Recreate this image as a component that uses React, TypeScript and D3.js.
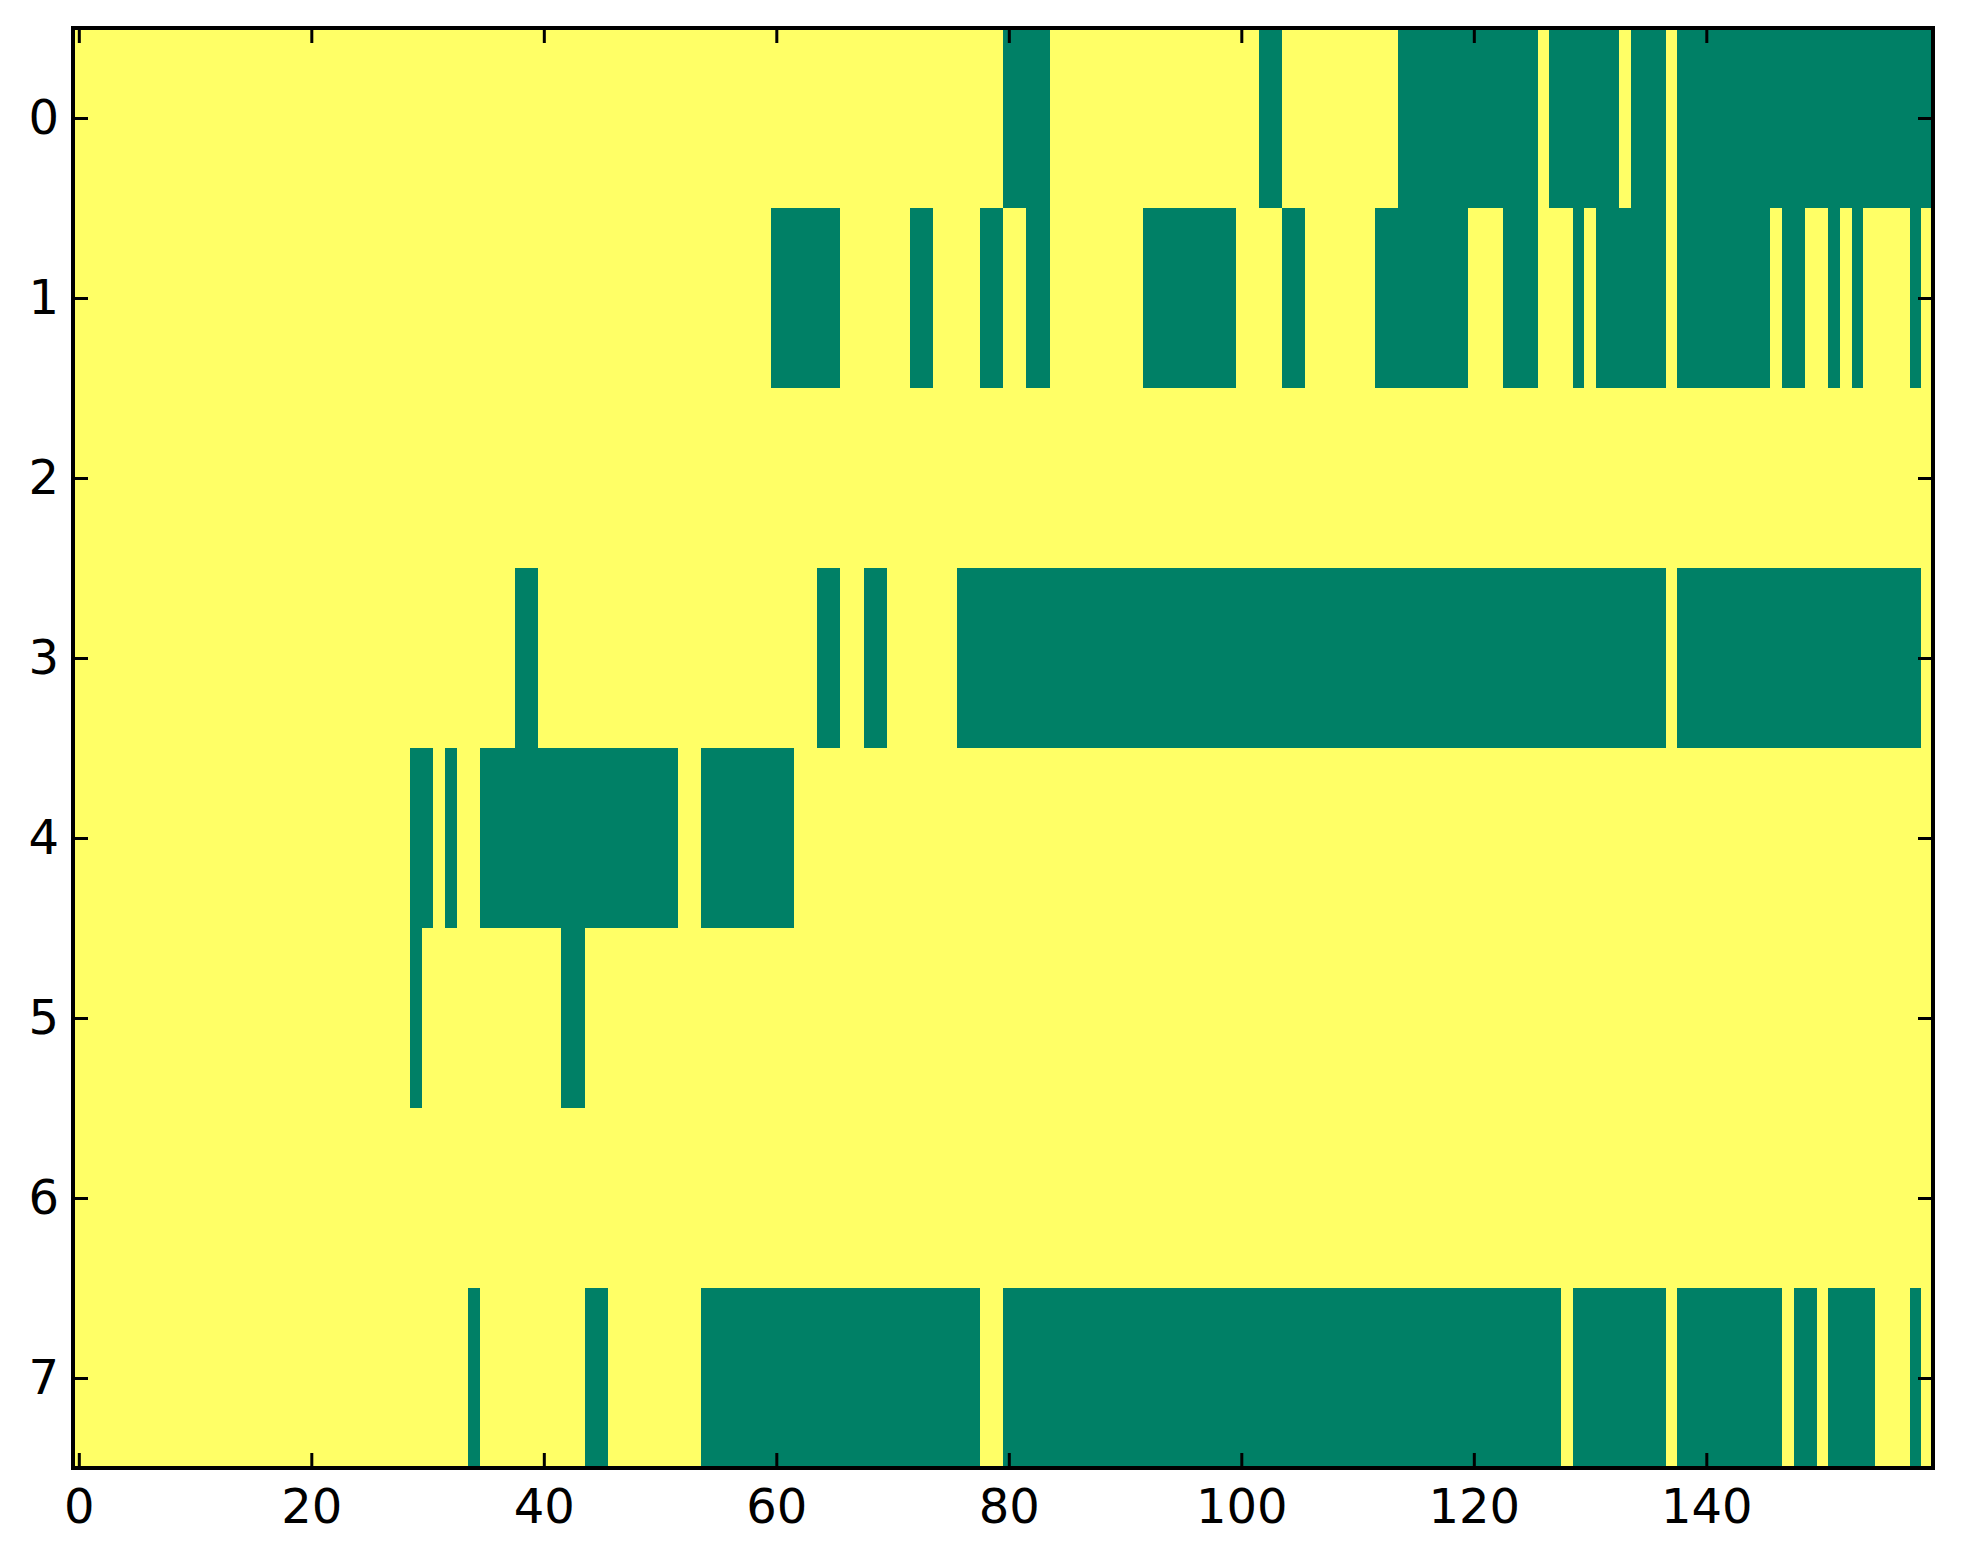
import React, { useEffect, useRef } from 'react';
import * as d3 from 'd3';

// green (0) runs per row, inclusive column ranges; everything else is 1 (yellow)
const nCols = 160;
const row0 = [[80, 83], [102, 103], [114, 125], [127, 132], [134, 136], [138, 159]];
const row1 = [[60, 65], [72, 73], [78, 79], [82, 83], [92, 99], [104, 105], [112, 119], [123, 125], [129, 129], [131, 136], [138, 145], [147, 148], [151, 151], [153, 153], [158, 158]];
const row2: number[][] = [];
const row3 = [[38, 39], [64, 65], [68, 69], [76, 136], [138, 158]];
const row4 = [[29, 30], [32, 32], [35, 51], [54, 61]];
const row5 = [[29, 29], [42, 43]];
const row6: number[][] = [];
const row7 = [[34, 34], [44, 45], [54, 77], [80, 127], [129, 136], [138, 146], [148, 149], [151, 154], [158, 158]];
const rows = [row0, row1, row2, row3, row4, row5, row6, row7];

const xTicks = [0, 20, 40, 60, 80, 100, 120, 140];
const yTicks = [0, 1, 2, 3, 4, 5, 6, 7];

const W = 1963;
const H = 1564;
const margin = { left: 73, right: 30, top: 28, bottom: 96 };

const HeatStrip = () => {
  const ref = useRef<SVGSVGElement>(null);

  useEffect(() => {
    const matrix = rows.map(runs => {
      const r = new Array(nCols).fill(1);
      runs.forEach(([a, b]) => { for (let c = a; c <= b; c++) r[c] = 0; });
      return r;
    });

    const x = d3.scaleLinear().domain([-0.5, nCols - 0.5]).range([margin.left, W - margin.right]);
    const y = d3.scaleLinear().domain([-0.5, rows.length - 0.5]).range([margin.top, H - margin.bottom]);
    const color = d3.scaleLinear<string>().domain([0, 1]).range(['#008066', '#ffff66']);

    const svg = d3.select(ref.current);
    svg.selectAll('*').remove();

    // merge equal neighbours into runs so the cells have no seams
    const segs: { row: number; c0: number; c1: number; v: number }[] = [];
    matrix.forEach((r, i) => {
      let s = 0;
      for (let c = 1; c <= nCols; c++) {
        if (c === nCols || r[c] !== r[s]) {
          segs.push({ row: i, c0: s, c1: c - 1, v: r[s] });
          s = c;
        }
      }
    });

    svg.append('g')
      .attr('shape-rendering', 'crispEdges')
      .selectAll('rect')
      .data(segs)
      .join('rect')
      .attr('x', d => x(d.c0 - 0.5))
      .attr('width', d => x(d.c1 + 0.5) - x(d.c0 - 0.5))
      .attr('y', d => y(d.row - 0.5))
      .attr('height', d => y(d.row + 0.5) - y(d.row - 0.5))
      .attr('fill', d => color(d.v));

    const font = '"DejaVu Sans", sans-serif';
    const style = (g: any) => {
      g.select('.domain').remove();
      g.selectAll('line').attr('stroke', '#000').attr('stroke-width', 3);
      g.selectAll('text').attr('font-family', font).attr('font-size', 48).attr('fill', '#000');
    };

    svg.append('g')
      .attr('transform', `translate(0,${H - margin.bottom})`)
      .call(d3.axisBottom(x).tickValues(xTicks).tickSize(-15).tickPadding(21).tickFormat(d3.format('d')))
      .call(style);
    svg.append('g')
      .attr('transform', `translate(0,${margin.top})`)
      .call(d3.axisTop(x).tickValues(xTicks).tickSize(-15).tickFormat(() => ''))
      .call(style);
    svg.append('g')
      .attr('transform', `translate(${margin.left},0)`)
      .call(d3.axisLeft(y).tickValues(yTicks).tickSize(-15).tickPadding(14).tickFormat(d3.format('d')))
      .call(style);
    svg.append('g')
      .attr('transform', `translate(${W - margin.right},0)`)
      .call(d3.axisRight(y).tickValues(yTicks).tickSize(-15).tickFormat(() => ''))
      .call(style);

    svg.append('rect')
      .attr('x', margin.left)
      .attr('y', margin.top)
      .attr('width', W - margin.left - margin.right)
      .attr('height', H - margin.top - margin.bottom)
      .attr('fill', 'none')
      .attr('stroke', '#000')
      .attr('stroke-width', 4);
  }, []);

  return (
    <svg ref={ref} width={W} height={H}
      style={{ position: 'absolute', left: 0, top: 0, background: '#fff' }} />
  );
};

export default HeatStrip;
